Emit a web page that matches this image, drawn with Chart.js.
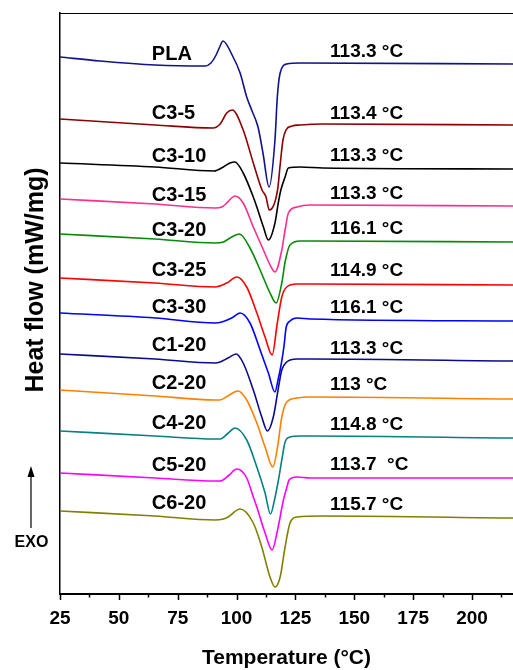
<!DOCTYPE html>
<html>
<head>
<meta charset="utf-8">
<script src="https://cdn.jsdelivr.net/npm/chart.js@4.4.0/dist/chart.umd.min.js"></script>
<style>
html,body{margin:0;padding:0;background:#fff;}
canvas{display:block;}
</style>
</head>
<body>
<canvas id="c" width="513" height="670"></canvas>
<script>
// Curves: [temperature °C, heat flow (arbitrary, offset-stacked units)]
const PLA   = [[25,537],[42,533],[65.4,529],[86.6,528],[89.1,531],[91.3,539],[93,548],[94.2,553],[98.1,539],[101.5,521],[104.3,497],[106.4,484],[109.1,467],[111.2,441],[113.8,407],[116.3,454],[117.3,497],[118.5,521],[121.3,530],[127,531],[217.4,530]];
const C3_5  = [[25,475],[65.4,469],[90,466],[93,470],[95.8,481],[98.2,484],[102.8,464],[107.1,431],[110.8,404],[112.5,397],[113.9,384],[117.4,404],[118.5,429],[119.7,454],[121,464],[123.6,468],[127,469],[136.7,470],[217.4,469]];
const C3_10 = [[25,431],[65.4,427],[90.5,423],[94.4,427],[97.2,431],[99.3,432],[102.8,421],[107.1,397],[108.6,387],[111.4,367],[113.5,354],[116.3,371],[117.7,391],[118.8,404],[120.6,417],[122,426],[127,427],[136.7,426],[217.4,425]];
const C3_15 = [[25,395],[65.4,390],[90.8,386],[93.7,387],[95.8,391],[97.9,396],[99.3,398],[102.8,391],[107.1,367],[111.4,344],[114.9,326],[116.3,322],[119.2,344],[120.6,364],[122,381],[125.6,387],[131.2,389],[217.4,388]];
const C3_20 = [[25,360],[65.4,355],[90.8,351],[94.4,352],[97.2,356],[101.2,360],[105.7,346],[110,324],[114.2,301],[116.8,291],[119.2,311],[120.6,332],[122.7,349],[127,353],[131.2,353],[217.4,352]];
const C3_25 = [[25,316],[65.4,311],[90.8,307],[95.8,311],[100.1,317],[104.3,307],[108.6,281],[112.1,257],[115.1,239],[117.3,271],[119.2,297],[121.3,307],[125.6,310],[131.2,310],[217.4,309]];
const C3_30 = [[25,281],[65.4,276],[90.8,271],[93.7,272],[97.9,276],[101.5,281],[105.7,271],[110,244],[113.5,221],[116.3,202],[117.6,214],[118.9,229],[120.2,249],[121,266],[122.7,273],[125.7,276],[131.2,275],[217.4,273]];
const C1_20 = [[25,240],[65.4,235],[90.8,231],[93,232],[96.4,236],[99.8,240],[102.8,231],[107.1,204],[110.7,177],[113.1,163],[115.6,177],[117.4,201],[119.2,224],[121.3,232],[125.6,235],[131.2,235],[217.4,233]];
const C2_20 = [[25,204],[65.4,198],[90.8,194],[93,194],[96.2,198],[100.6,203],[104.3,194],[108.6,171],[112.1,147],[115.4,127],[117.4,147],[119.2,177],[121.3,192],[125.6,196],[131.2,197],[217.4,195]];
const C4_20 = [[25,163],[65.4,158],[90.8,155],[93,155],[96.5,161],[99.3,166],[104.3,154],[108.6,127],[112.1,101],[114.4,80],[116.1,94],[117.7,113],[119.2,134],[120.6,152],[122.7,157],[127,158],[131.2,158],[217.4,156]];
const C5_20 = [[25,121],[65.4,116],[90.8,113],[93,113],[96.4,118],[100.1,125],[104.3,116],[107.1,97],[108.6,87],[112.1,61],[115.1,44],[117.4,64],[119.9,94],[121.4,107],[122.3,114],[125.6,117],[131.2,116],[217.4,116]];
const C6_20 = [[25,83],[65.4,78],[90.8,74],[94.4,75],[96.4,77],[101.5,85],[107.1,71],[110.7,47],[114.2,17],[116.3,7],[118.5,17],[120.6,47],[122.7,71],[125.6,77],[136.8,78],[217.4,76]];

const series = [PLA, C3_5, C3_10, C3_15, C3_20, C3_25, C3_30, C1_20, C2_20, C4_20, C5_20, C6_20];
const names = ['PLA','C3-5','C3-10','C3-15','C3-20','C3-25','C3-30','C1-20','C2-20','C4-20','C5-20','C6-20'];
const peakLabels = ['113.3 °C','113.4 °C','113.3 °C','113.3 °C','116.1 °C','114.9 °C','116.1 °C','113.3 °C','113 °C','114.8 °C','113.7  °C','115.7 °C'];
const nameY = [534,475,432,393,358,318,281,243,205,165,123,85];
const peakY = [537,475.5,433.5,395.5,360.5,318,281,240.5,204,164.5,124,84];
const nameX = 64.0;
const peakX = 139.7;
const colors = ['#12128C','#8B0000','#000000','#FF2D8C','#078A07','#FF0000','#0000FF','#0A0A8F','#FF8000','#068080','#FF00FF','#808000'];
const majorTicks = [25,50,75,100,125,150,175,200];
const minorTicks = [37.5,62.5,87.5,112.5,137.5,162.5,187.5,212.5];
const xMin = 25, xMax = 217.4, yMin = 0, yMax = 581;

const FONT = '"Liberation Sans", Arial, Helvetica, sans-serif';
Chart.defaults.font.family = FONT;
Chart.defaults.color = '#000';

const decor = {
  id: 'decor',
  afterDraw(chart) {
    const {ctx, chartArea: ca, scales: {x, y}} = chart;
    ctx.save();
    // top frame line
    ctx.strokeStyle = '#000';
    ctx.lineWidth = 1.2;
    ctx.beginPath();
    ctx.moveTo(ca.left, ca.top + 0.5);
    ctx.lineTo(ca.right, ca.top + 0.5);
    ctx.stroke();
    // ticks on bottom axis (outward)
    ctx.lineWidth = 1.5;
    ctx.beginPath();
    majorTicks.forEach(t => { const px = Math.round(x.getPixelForValue(t)) + 0.5; ctx.moveTo(px, ca.bottom); ctx.lineTo(px, ca.bottom + 6); });
    minorTicks.forEach(t => { const px = Math.round(x.getPixelForValue(t)) + 0.5; ctx.moveTo(px, ca.bottom); ctx.lineTo(px, ca.bottom + 3.5); });
    ctx.stroke();
    // sample names
    ctx.fillStyle = '#000';
    ctx.textBaseline = 'alphabetic';
    ctx.textAlign = 'left';
    ctx.font = 'bold 20px ' + FONT;
    names.forEach((n, i) => ctx.fillText(n, x.getPixelForValue(nameX), y.getPixelForValue(nameY[i])));
    ctx.font = 'bold 19px ' + FONT;
    peakLabels.forEach((n, i) => ctx.fillText(n, x.getPixelForValue(peakX), y.getPixelForValue(peakY[i])));
    // y title
    ctx.save();
    ctx.translate(42.5, 280);
    ctx.rotate(-Math.PI / 2);
    ctx.textAlign = 'center';
    ctx.font = 'bold 25px ' + FONT;
    ctx.fillText('Heat flow (mW/mg)', 0, 0);
    ctx.restore();
    // EXO arrow
    ctx.lineWidth = 1.2;
    ctx.beginPath();
    ctx.moveTo(31, 528);
    ctx.lineTo(31, 474);
    ctx.stroke();
    ctx.beginPath();
    ctx.moveTo(31, 466);
    ctx.lineTo(27.5, 477);
    ctx.lineTo(34.5, 477);
    ctx.closePath();
    ctx.fill();
    ctx.font = 'bold 16px ' + FONT;
    ctx.textAlign = 'center';
    ctx.fillText('EXO', 31.5, 547);
    ctx.restore();
  }
};

new Chart(document.getElementById('c'), {
  type: 'line',
  data: {
    datasets: series.map((s, i) => ({
      label: names[i],
      data: s.map(p => ({x: p[0], y: p[1]})),
      borderColor: colors[i],
      borderWidth: 1.6,
      pointRadius: 0,
      fill: false,
      cubicInterpolationMode: 'monotone'
    }))
  },
  options: {
    responsive: false,
    animation: false,
    devicePixelRatio: 1,
    layout: {padding: {top: 13, left: 0, right: 0, bottom: 0}},
    plugins: {legend: {display: false}, tooltip: {enabled: false}},
    scales: {
      x: {
        type: 'linear', min: xMin, max: xMax, position: 'bottom',
        afterBuildTicks: s => { s.ticks = majorTicks.map(v => ({value: v})); },
        afterFit: s => { s.height = 76; s.paddingLeft = 0; s.paddingRight = 0; },
        ticks: {font: {size: 19, weight: 'bold'}, color: '#000', padding: 13, maxRotation: 0},
        grid: {display: false, drawTicks: false},
        border: {display: true, color: '#000', width: 2},
        title: {display: true, text: 'Temperature (°C)', font: {size: 21, weight: 'bold', lineHeight: 1.1}, color: '#000', padding: {top: 0, bottom: 0}}
      },
      y: {
        type: 'linear', min: yMin, max: yMax,
        afterFit: s => { s.width = 60; },
        ticks: {display: false},
        grid: {display: false, drawTicks: false},
        border: {display: true, color: '#000', width: 1.5}
      }
    }
  },
  plugins: [decor]
});
</script>
</body>
</html>
